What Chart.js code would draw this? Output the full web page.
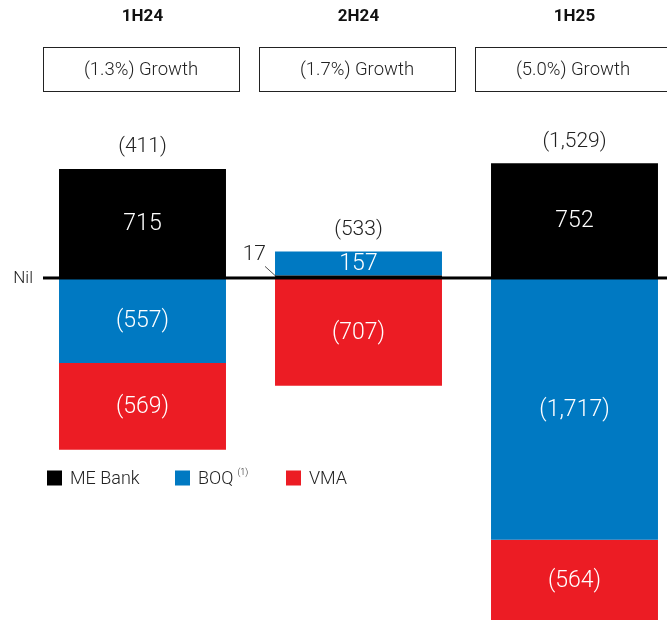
<!DOCTYPE html>
<html>
<head>
<meta charset="utf-8">
<script src="https://cdn.jsdelivr.net/npm/chart.js@4/dist/chart.umd.min.js"></script>
<style>
  html, body { margin: 0; padding: 0; background: #fff; overflow: hidden; }
  #wrap { width: 700px; height: 620px; }
</style>
</head>
<body>
<div id="wrap"><canvas id="c" width="700" height="620"></canvas></div>
<script>
const categories = ["1H24", "2H24", "1H25"];
const growthLabels = ["(1.3%) Growth", "(1.7%) Growth", "(5.0%) Growth"];
const meBank = [715, 17, 752];
const boq = [-557, 157, -1717];
const vma = [-569, -707, -564];
const totals = [-411, -533, -1529];
const seriesNames = ["ME Bank", "BOQ", "VMA"];
const seriesNotes = ["", "(1)", ""];
const zeroLabel = "Nil";

const FONT = "Roboto, 'Liberation Sans', sans-serif";

function fmt(v) {
  const s = Math.abs(v).toLocaleString("en-US");
  return v < 0 ? "(" + s + ")" : s;
}

const overlay = {
  id: "overlay",
  afterDatasetsDraw(chart) {
    const ctx = chart.ctx;
    const x = chart.scales.x, y = chart.scales.y;
    const y0 = y.getPixelForValue(0);
    ctx.save();
    // zero line
    ctx.fillStyle = "#000";
    ctx.fillRect(43, y0 - 1.5, 700 - 43, 3);
    ctx.font = "300 17px " + FONT;
    ctx.textAlign = "right";
    ctx.textBaseline = "middle";
    ctx.fillStyle = "#222";
    ctx.fillText(zeroLabel, 33, y0 + 1);

    // headers and growth boxes
    categories.forEach((c, i) => {
      const cx = x.getPixelForValue(i);
      ctx.fillStyle = "#111";
      ctx.font = "bold 17px " + FONT;
      ctx.textAlign = "center";
      ctx.textBaseline = "middle";
      ctx.fillText(c, cx, 17);
      ctx.strokeStyle = "#222";
      ctx.lineWidth = 1;
      ctx.strokeRect(Math.round(cx - 99.5) + 0.5, 47.5, 196, 44);
      ctx.font = "300 18.5px " + FONT;
      ctx.fillStyle = "#222";
      ctx.fillText(growthLabels[i], cx - 1.5, 70);
    });

    // segment labels
    chart.data.datasets.forEach((ds, di) => {
      const meta = chart.getDatasetMeta(di);
      meta.data.forEach((bar, j) => {
        const v = ds.data[j];
        const top = Math.min(bar.y, bar.base), bot = Math.max(bar.y, bar.base);
        const h = bot - top;
        if (h > 20) {
          ctx.fillStyle = "#fff";
          ctx.font = "300 23px " + FONT;
          ctx.textAlign = "center";
          ctx.textBaseline = "middle";
          const cy = Math.min((top + bot) / 2, (top + chart.chartArea.bottom) / 2);
          ctx.fillText(fmt(v), bar.x, cy + 1);
        } else {
          // small segment: label to the left with leader line
          const left = bar.x - bar.width / 2;
          ctx.strokeStyle = "#222";
          ctx.lineWidth = 0.8;
          ctx.beginPath();
          ctx.moveTo(left - 10, top - 9);
          ctx.lineTo(left + 1, top + 1);
          ctx.stroke();
          ctx.fillStyle = "#222";
          ctx.font = "300 21px " + FONT;
          ctx.textAlign = "right";
          ctx.textBaseline = "middle";
          ctx.fillText(fmt(v), left - 9, top - 21);
        }
      });
    });

    // totals
    totals.forEach((t, i) => {
      let topPx = Infinity;
      chart.data.datasets.forEach((ds, di) => {
        const b = chart.getDatasetMeta(di).data[i];
        topPx = Math.min(topPx, b.y, b.base);
      });
      ctx.fillStyle = "#222";
      ctx.font = "300 21px " + FONT;
      ctx.textAlign = "center";
      ctx.textBaseline = "middle";
      ctx.fillText(fmt(t), x.getPixelForValue(i), topPx - 22);
    });

    // legend
    const legendX = [47, 175, 286];
    const ly = 478;
    chart.data.datasets.forEach((ds, di) => {
      const lx = legendX[di];
      ctx.fillStyle = ds.backgroundColor;
      ctx.fillRect(lx, ly - 7.5, 15, 15);
      ctx.fillStyle = "#222";
      ctx.font = "300 18px " + FONT;
      ctx.textAlign = "left";
      ctx.textBaseline = "middle";
      ctx.fillText(ds.label, lx + 23, ly + 1);
      if (seriesNotes[di]) {
        const w = ctx.measureText(ds.label).width;
        ctx.font = "300 9px " + FONT;
        ctx.fillText(seriesNotes[di], lx + 23 + w + 4, ly - 5);
      }
    });
    ctx.restore();
  }
};

new Chart(document.getElementById("c"), {
  type: "bar",
  data: {
    labels: categories,
    datasets: [
      { label: seriesNames[0], data: meBank, backgroundColor: "#000000" },
      { label: seriesNames[1], data: boq, backgroundColor: "#0079C2" },
      { label: seriesNames[2], data: vma, backgroundColor: "#EC1C24" }
    ]
  },
  options: {
    responsive: false,
    animation: false,
    layout: { padding: { left: 34.5, right: 17.5, top: 0, bottom: 0 } },
    datasets: { bar: { categoryPercentage: 1, barPercentage: 0.773, borderWidth: 0 } },
    scales: {
      x: { stacked: true, display: false },
      y: { stacked: true, display: false, min: -2243, max: 1823 }
    },
    plugins: { legend: { display: false }, tooltip: { enabled: false } }
  },
  plugins: [overlay]
});
</script>
</body>
</html>
